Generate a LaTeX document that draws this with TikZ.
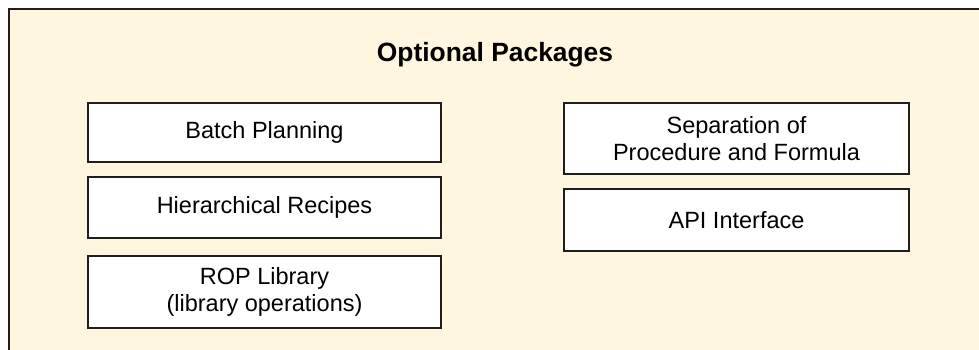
\documentclass[tikz,border=0pt]{standalone}
\usepackage{fontspec}
\setmainfont{Liberation Sans}
\definecolor{panelfill}{RGB}{254,246,222}
\definecolor{edgegray}{RGB}{30,30,30}
\tikzset{
  pkg/.style={draw=edgegray, line width=1.2pt, fill=white, inner sep=0pt,
    align=center, font=\fontsize{23.5}{27}\selectfont},
  heading/.style={inner sep=0pt, font=\fontsize{26.4}{30}\selectfont\bfseries},
}
\begin{document}
\begin{tikzpicture}[x=1pt, y=-1pt]
  \useasboundingbox (0,0) rectangle (979,350);
  \clip (0,0) rectangle (979,350);
  % package panel, running off the right and bottom edges
  \draw[draw=edgegray, line width=1.5pt, fill=panelfill] (9,9) rectangle (990,362);
  \node[heading, anchor=base] (title) at (495,62) {Optional Packages};
  % left column
  \node[pkg, minimum width=353pt, minimum height=59pt] (batch) at (264.5,132.5) {Batch Planning};
  \node[pkg, minimum width=353pt, minimum height=61pt] (hier) at (264.5,207.5) {Hierarchical Recipes};
  \node[pkg, minimum width=353pt, minimum height=72pt] (rop) at (264.5,292) {ROP Library\\(library operations)};
  % right column
  \node[pkg, minimum width=345pt, minimum height=71pt] (sep) at (736.5,138.5) {Separation of\\Procedure and Formula};
  \node[pkg, minimum width=345pt, minimum height=62pt] (api) at (736.5,220) {API Interface};
\end{tikzpicture}
\end{document}
